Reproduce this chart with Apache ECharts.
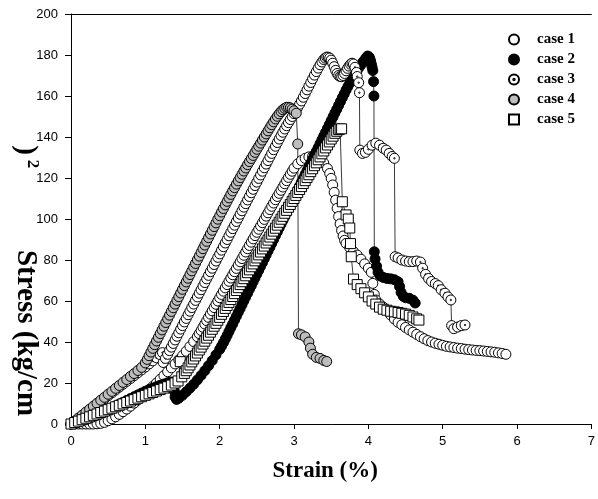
<!DOCTYPE html>
<html>
<head>
<meta charset="utf-8">
<script src="https://cdn.jsdelivr.net/npm/echarts@6/dist/echarts.min.js"></script>
<style>
  html, body { margin: 0; padding: 0; background: #fff; }
  #chart { width: 598px; height: 499px; }
</style>
</head>
<body>
<div id="chart"></div>
<script>
// strain (%) vs stress (kg/cm2)
const case1 = [
  [0,0],[0.05,0],[0.1,0],[0.15,0],[0.2,0],[0.25,0],[0.3,0],[0.35,0.1],[0.4,0.3],[0.45,0.8],[0.5,1.6],[0.55,2.5],[0.6,3.5],
  [0.65,4.7],[0.7,6],[0.75,7.3],[0.8,8.7],[0.85,10.2],[0.9,11.7],[0.95,13.3],[1.0,15],[1.05,16.6],[1.1,18.3],[1.15,20],
  [1.2,21.8],[1.25,23.6],[1.3,25.5],[1.35,27.4],[1.4,29.3],[1.45,31.3],[1.5,33.3],[1.55,35.5],[1.6,37.8],[1.65,40.2],
  [1.7,42.6],[1.725,44.1],[1.75,45.6],[1.775,47.2],[1.8,48.8],[1.825,50.4],[1.85,52],[1.875,53.6],[1.9,55.2],
  [1.925,56.8],[1.95,58.4],[1.975,60],[2.0,61.6],[2.025,63.2],[2.05,64.8],[2.075,66.4],[2.1,68],[2.125,69.6],
  [2.15,71.2],[2.175,72.8],[2.2,74.3],[2.225,75.9],[2.25,77.5],[2.275,79.1],[2.3,80.7],[2.325,82.3],[2.35,83.9],
  [2.375,85.5],[2.4,87.1],[2.425,88.7],[2.45,90.3],[2.475,91.9],[2.5,93.5],[2.525,95],[2.55,96.6],[2.575,98.2],
  [2.6,99.8],[2.625,101.4],[2.65,103],[2.675,104.6],[2.7,106.2],[2.725,107.8],[2.75,109.4],[2.775,111],[2.8,112.5],
  [2.825,114],[2.85,115.6],[2.875,117.2],[2.9,118.7],[2.925,120.3],[2.95,121.8],[2.975,123.3],[3.0,124.8],
  [3.05,126.9],[3.1,128.5],[3.15,129.6],[3.2,130.3],[3.25,130.6],[3.3,130.4],[3.35,129.2],[3.4,127.3],[3.45,124.6],
  [3.48,122.2],[3.5,119.8],[3.52,116.6],[3.54,113],[3.56,109.2],[3.58,105.2],[3.6,101.2],[3.62,97.6],[3.64,94.4],
  [3.66,91.7],[3.68,89.6],[3.7,88.1],[3.75,86],[3.8,84.1],[3.85,82.4],[3.9,80.4],[3.95,78.1],[4.0,76],[4.04,74],
  [4.06,68.6],[4.08,63.2],[4.1,60.5],[4.15,58.6],[4.2,57],[4.25,55.4],[4.3,53.2],[4.35,51.2],[4.4,49.6],[4.45,48.4],
  [4.5,47.1],[4.55,45.9],[4.6,44.8],[4.65,43.7],[4.7,42.6],[4.75,41.6],[4.8,40.7],[4.85,40],[4.9,39.4],[4.95,38.9],
  [5.0,38.4],[5.05,37.9],[5.1,37.6],[5.15,37.3],[5.2,37],[5.25,36.8],[5.3,36.5],[5.35,36.3],[5.4,36.1],[5.45,35.9],
  [5.5,35.8],[5.55,35.6],[5.6,35.4],[5.65,35.2],[5.7,35],[5.75,34.7],[5.8,34.4],[5.85,34]
];
const case2 = [
  [0,0],[0.05,0.5],[0.1,1],[0.15,1.6],[0.2,2.2],[0.25,2.9],[0.3,3.6],[0.35,4.4],[0.4,5.2],[0.45,6.1],[0.5,7],[0.55,7.9],
  [0.6,8.8],[0.65,9.7],[0.7,10.6],[0.75,11.5],[0.8,12.4],[0.85,13.3],[0.9,14.2],[0.95,15.1],[1.0,16],[1.05,16.8],
  [1.1,17.5],[1.15,18.2],[1.2,18.9],[1.25,19.5],[1.3,20.1],[1.34,20.5],[1.37,19.4],[1.39,16],[1.4,13.2],[1.42,12],
  [1.45,12.6],[1.5,14],[1.55,15.7],[1.6,17.5],[1.65,19.4],[1.7,21.5],[1.75,23.7],[1.8,26],[1.85,28.4],[1.9,31],
  [1.95,33.7],[2.0,36.4],[2.025,38],[2.05,39.6],[2.075,41.4],[2.1,43.2],[2.125,45.1],[2.15,47],[2.175,48.8],
  [2.2,50.7],[2.225,52.6],[2.25,54.5],[2.275,56.3],[2.3,58.2],[2.325,60.1],[2.35,62],[2.375,63.8],[2.4,65.7],
  [2.425,67.5],[2.45,69.4],[2.475,71.3],[2.5,73.2],[2.525,75],[2.55,76.9],[2.575,78.7],[2.6,80.6],[2.625,82.5],
  [2.65,84.4],[2.675,86.2],[2.7,88.1],[2.725,90],[2.75,91.9],[2.775,93.7],[2.8,95.6],[2.825,97.4],[2.85,99.3],
  [2.875,101.2],[2.9,103.1],[2.925,104.9],[2.95,106.8],[2.975,108.6],[3.0,110.5],[3.025,112.4],[3.05,114.3],
  [3.075,116.1],[3.1,118],[3.125,119.9],[3.15,121.8],[3.175,123.6],[3.2,125.5],[3.225,127.3],[3.25,129.2],
  [3.275,131.1],[3.3,133],[3.325,134.8],[3.35,136.7],[3.375,138.6],[3.4,140.5],[3.425,142.3],[3.45,144.2],
  [3.475,146.1],[3.5,148],[3.525,149.8],[3.55,151.7],[3.575,153.5],[3.6,155.4],[3.625,157.3],[3.65,159.2],
  [3.675,161],[3.7,162.9],[3.725,164.6],[3.75,166.3],[3.775,167.9],[3.8,169.5],[3.825,171],[3.85,172.5],
  [3.875,173.9],[3.9,175.2],[3.925,176.5],[3.95,177.6],[3.97,178.6],[3.99,179.5],[4.01,179],[4.02,178.2],
  [4.03,177],[4.04,175.6],[4.05,174],[4.06,172.4],[4.07,167],[4.075,160],
  [4.08,84],[4.09,80.5],[4.11,77],[4.13,74],[4.16,72.2],[4.2,71.5],[4.25,71],[4.3,70.8],[4.35,70.4],[4.4,69.4],
  [4.42,67],[4.44,64.2],[4.47,62.3],[4.5,61.6],[4.55,61.3],[4.6,60.4],[4.63,59]
];
const case3 = [
  [0,0],[0.05,1.3],[0.1,2.6],[0.15,4],[0.2,5.4],[0.25,6.8],[0.3,8.2],[0.35,9.6],[0.4,11],[0.45,12.4],[0.5,13.8],
  [0.55,15.2],[0.6,16.6],[0.65,18],[0.7,19.4],[0.75,20.8],[0.8,22.2],[0.85,23.6],[0.9,25],[0.95,26.4],[1.0,27.8],
  [1.05,29.3],[1.1,30.8],[1.15,32.3],[1.2,33.8],[1.23,34.8],[1.24,30],[1.27,32],[1.3,34],[1.325,35.8],[1.35,37.5],
  [1.375,39.3],[1.4,41],[1.425,42.8],[1.45,44.5],[1.475,46.3],[1.5,48],[1.525,49.8],[1.55,51.5],[1.575,53.3],
  [1.6,55],[1.625,56.8],[1.65,58.5],[1.675,60.3],[1.7,62],[1.725,63.8],[1.75,65.5],[1.775,67.3],[1.8,69],
  [1.825,70.8],[1.85,72.5],[1.875,74.3],[1.9,76],[1.925,77.8],[1.95,79.5],[1.975,81.3],[2.0,83],[2.025,84.8],
  [2.05,86.5],[2.075,88.3],[2.1,90],[2.125,91.8],[2.15,93.5],[2.175,95.3],[2.2,97],[2.225,98.8],[2.25,100.5],
  [2.275,102.3],[2.3,104],[2.325,105.8],[2.35,107.5],[2.375,109.3],[2.4,111],[2.425,112.8],[2.45,114.5],
  [2.475,116.3],[2.5,118],[2.525,119.8],[2.55,121.5],[2.575,123.3],[2.6,125],[2.625,126.8],[2.65,128.5],
  [2.675,130.3],[2.7,132],[2.725,133.8],[2.75,135.5],[2.775,137.3],[2.8,139],[2.825,140.7],[2.85,142.3],
  [2.875,143.9],[2.9,145.5],[2.925,147],[2.95,148.5],[2.975,150],[3.0,151.4],[3.025,152.9],[3.05,154.4],
  [3.075,156],[3.1,157.6],[3.125,159.4],[3.15,161.2],[3.175,163],[3.2,164.8],[3.225,166.6],[3.25,168.4],
  [3.275,170.2],[3.3,171.9],[3.325,173.6],[3.35,175.2],[3.375,176.6],[3.4,177.8],[3.42,178.5],[3.44,179],
  [3.46,178.9],[3.48,178.5],[3.5,177.5],[3.52,176],[3.54,174.3],[3.56,172.5],[3.58,171],[3.6,170],[3.62,169.5],
  [3.64,169.4],[3.66,170],[3.68,171],[3.7,172.3],[3.72,173.5],[3.74,174.6],[3.76,175.5],[3.78,176],[3.8,175.6],
  [3.82,174],[3.84,171.5],[3.85,169.5],[3.87,166.5],[3.88,161.6],[3.885,133.6],[3.92,132],[3.96,132.5],[4.0,134],
  [4.05,136],[4.1,137],[4.15,136],[4.2,134.5],[4.24,133.6],[4.28,132],[4.32,130.5],[4.35,129.6],[4.36,81.6],
  [4.4,81],[4.45,80],[4.5,79.5],[4.55,79.2],[4.6,79.2],[4.65,79.5],[4.7,79],[4.73,76],[4.77,73],[4.81,71],
  [4.85,69.5],[4.9,68.5],[4.94,67.5],[4.98,65.5],[5.03,63.8],[5.07,62],[5.11,60.5],[5.12,48],[5.15,46.5],
  [5.2,47.3],[5.25,48],[5.3,48.3]
];
const case4 = [
  [0,0],[0.05,1.4],[0.1,2.9],[0.15,4.3],[0.2,5.8],[0.25,7.2],[0.3,8.7],[0.35,10.1],[0.4,11.6],[0.45,13],[0.5,14.5],
  [0.55,15.9],[0.6,17.4],[0.65,18.8],[0.7,20.3],[0.75,21.7],[0.8,23.2],[0.85,24.6],[0.9,26.1],[0.95,27.6],[1.0,29.8],
  [1.025,31.5],[1.05,33.3],[1.075,35.1],[1.1,36.9],[1.125,38.7],[1.15,40.5],[1.175,42.3],[1.2,44.1],[1.225,45.9],
  [1.25,47.7],[1.275,49.5],[1.3,51.3],[1.325,53.1],[1.35,54.9],[1.375,56.7],[1.4,58.5],[1.425,60.3],[1.45,62.1],
  [1.475,63.9],[1.5,65.7],[1.525,67.5],[1.55,69.3],[1.575,71.1],[1.6,72.9],[1.625,74.7],[1.65,76.5],[1.675,78.3],
  [1.7,80.1],[1.725,81.9],[1.75,83.7],[1.775,85.5],[1.8,87.3],[1.825,89.1],[1.85,90.9],[1.875,92.7],[1.9,94.5],
  [1.925,96.3],[1.95,98.1],[1.975,99.9],[2.0,101.6],[2.025,103.4],[2.05,105.1],[2.075,106.9],[2.1,108.6],
  [2.125,110.3],[2.15,112],[2.175,113.7],[2.2,115.3],[2.225,117],[2.25,118.6],[2.275,120.2],[2.3,121.8],
  [2.325,123.4],[2.35,124.9],[2.375,126.5],[2.4,128],[2.425,129.5],[2.45,131],[2.475,132.5],[2.5,134],
  [2.525,135.5],[2.55,137],[2.575,138.5],[2.6,140],[2.625,141.5],[2.65,143],[2.675,144.5],[2.7,146],[2.725,147.4],
  [2.75,148.8],[2.775,150.1],[2.8,151.3],[2.825,152.4],[2.85,153.3],[2.875,154],[2.9,154.5],[2.925,154.5],
  [2.95,154.2],[2.975,153.6],[3.0,152.8],[3.03,151.6],[3.05,136.6],[3.06,44],[3.1,43.5],[3.15,42.5],[3.2,40],
  [3.22,37],[3.25,34],[3.3,32.5],[3.35,32],[3.4,31],[3.44,30.5]
];
const case5 = [
  [0,0],[0.05,0.7],[0.1,1.4],[0.15,2.1],[0.2,2.8],[0.25,3.5],[0.3,4.2],[0.35,4.9],[0.4,5.6],[0.45,6.3],[0.5,7],
  [0.55,7.7],[0.6,8.4],[0.65,9.1],[0.7,9.8],[0.75,10.5],[0.8,11.2],[0.85,11.9],[0.9,12.6],[0.95,13.3],[1.0,14],
  [1.05,14.7],[1.1,15.4],[1.15,16.1],[1.2,16.8],[1.25,17.5],[1.3,18.2],[1.35,19],[1.4,20],[1.44,21],[1.47,30.4],
  [1.49,23],[1.525,24.7],[1.55,26],[1.575,27.4],[1.6,28.8],[1.625,30.3],[1.65,31.7],[1.675,33.2],[1.7,34.6],
  [1.725,36.1],[1.75,37.5],[1.775,39],[1.8,40.4],[1.825,41.9],[1.85,43.3],[1.875,44.8],[1.9,46.2],[1.925,47.7],
  [1.95,49.1],[1.975,50.6],[2.0,52],[2.025,53.5],[2.05,54.9],[2.075,56.4],[2.1,57.8],[2.125,59.3],[2.15,60.7],
  [2.175,62.2],[2.2,63.6],[2.225,65.1],[2.25,66.5],[2.275,68],[2.3,69.4],[2.325,70.9],[2.35,72.3],[2.375,73.8],
  [2.4,75.2],[2.425,76.7],[2.45,78.1],[2.475,79.6],[2.5,81],[2.525,82.5],[2.55,83.9],[2.575,85.4],[2.6,86.8],
  [2.625,88.3],[2.65,89.7],[2.675,91.2],[2.7,92.6],[2.725,94.1],[2.75,95.5],[2.775,97],[2.8,98.4],[2.825,99.9],
  [2.85,101.3],[2.875,102.8],[2.9,104.2],[2.925,105.7],[2.95,107.1],[2.975,108.6],[3.0,110],[3.025,111.5],
  [3.05,112.9],[3.075,114.4],[3.1,115.8],[3.125,117.3],[3.15,118.7],[3.175,120.2],[3.2,121.6],[3.225,123.1],
  [3.25,124.5],[3.275,126],[3.3,127.4],[3.325,128.9],[3.35,130.3],[3.375,131.8],[3.4,133.2],[3.425,134.7],
  [3.45,136.1],[3.475,137.6],[3.5,139],[3.525,140.4],[3.55,141.8],[3.575,142.8],[3.6,143.6],[3.62,143.9],[3.64,144],
  [3.65,108.4],[3.7,102],[3.73,100],[3.75,95.6],[3.76,88],[3.77,81.6],[3.8,70.7],[3.85,68],[3.9,66],[3.95,64],
  [4.0,62],[4.05,60],[4.1,58.5],[4.15,57],[4.2,56],[4.25,55.5],[4.3,55],[4.35,54.7],[4.4,54.4],[4.45,54],[4.5,53.6],
  [4.55,53],[4.6,52.2],[4.65,51.3],[4.68,50.7]
];

const seriesNames = ['case 1', 'case 2', 'case 3', 'case 4', 'case 5'];
const xTicks = [0, 1, 2, 3, 4, 5, 6, 7];
const yTicks = [0, 20, 40, 60, 80, 100, 120, 140, 160, 180, 200];

// circle with a dot in the middle (case 3)
const dotCircle = 'path://M0,10 A10,10 0 1,1 20,10 A10,10 0 1,1 0,10 Z M8.6,10 A1.4,1.4 0 1,1 11.4,10 A1.4,1.4 0 1,1 8.6,10 Z';

const serif = '"Liberation Serif", "Times New Roman", serif';
const sans = '"Liberation Sans", Arial, sans-serif';

function makeSeries(name, data, symbol, fill) {
  return {
    name: name,
    type: 'line',
    data: data,
    symbol: symbol,
    symbolSize: 10,
    showAllSymbol: true,
    xAxisIndex: 0,
    yAxisIndex: 0,
    lineStyle: { color: '#3a3a3a', width: 1 },
    itemStyle: { color: fill, borderColor: '#000', borderWidth: 1 },
    emphasis: { disabled: true },
    animation: false
  };
}

const myChart = echarts.init(document.getElementById('chart'));

const option = {
  backgroundColor: '#fff',
  animation: false,
  grid: { left: 71, right: 0, top: 14, bottom: 75 },
  legend: {
    orient: 'vertical',
    left: 503,
    top: 27,
    itemWidth: 10,
    itemHeight: 10,
    itemGap: 5,
    selectedMode: false,
    data: [
      { name: 'case 1', icon: 'circle' },
      { name: 'case 2', icon: 'circle' },
      { name: 'case 3', icon: dotCircle },
      { name: 'case 4', icon: 'circle' },
      { name: 'case 5', icon: 'rect' }
    ],
    textStyle: {
      fontFamily: serif,
      fontWeight: 'bold',
      fontSize: 15,
      lineHeight: 15,
      color: '#000',
      padding: [0, 0, 0, 13]
    }
  },
  xAxis: [
    {
      type: 'value',
      min: xTicks[0],
      max: xTicks[xTicks.length - 1],
      interval: 1,
      name: 'Strain (%)',
      nameLocation: 'middle',
      nameGap: 36,
      nameTextStyle: { fontFamily: serif, fontWeight: 'bold', fontSize: 23, color: '#000', padding: [0, 12, 0, 0] },
      axisLine: { show: true, onZero: false, lineStyle: { color: '#000', width: 1 } },
      axisTick: { show: true, inside: false, length: 5, lineStyle: { color: '#000' } },
      axisLabel: { fontFamily: sans, fontSize: 13, color: '#000', margin: 11 },
      splitLine: { show: false }
    },
    {
      type: 'value',
      position: 'top',
      min: xTicks[0],
      max: xTicks[xTicks.length - 1],
      axisLine: { show: true, onZero: false, lineStyle: { color: '#000', width: 1 } },
      axisTick: { show: false },
      axisLabel: { show: false },
      splitLine: { show: false }
    }
  ],
  yAxis: {
    type: 'value',
    min: yTicks[0],
    max: yTicks[yTicks.length - 1],
    interval: 20,
    axisLine: { show: true, onZero: false, lineStyle: { color: '#000', width: 1 } },
    axisTick: { show: true, inside: false, length: 6, lineStyle: { color: '#000' } },
    axisLabel: { fontFamily: sans, fontSize: 13, color: '#000', margin: 13 },
    splitLine: { show: false }
  },
  // the y title in the source figure is split: "Stress (kg/cm" with ")2" left above it
  graphic: [
    {
      type: 'text',
      x: 25,
      y: 333,
      rotation: -Math.PI / 2,
      style: { text: 'Stress (kg/cm', font: 'bold 29px ' + serif, fill: '#000', align: 'center', verticalAlign: 'middle' }
    },
    {
      type: 'text',
      x: 25,
      y: 150,
      rotation: -Math.PI / 2,
      style: { text: ')', font: 'bold 29px ' + serif, fill: '#000', align: 'center', verticalAlign: 'middle' }
    },
    {
      type: 'text',
      x: 32,
      y: 164,
      rotation: -Math.PI / 2,
      style: { text: '2', font: 'bold 17px ' + serif, fill: '#000', align: 'center', verticalAlign: 'middle' }
    }
  ],
  series: [
    makeSeries(seriesNames[0], case1, 'circle', '#fff'),
    makeSeries(seriesNames[1], case2, 'circle', '#000'),
    makeSeries(seriesNames[2], case3, dotCircle, '#fff'),
    makeSeries(seriesNames[3], case4, 'circle', '#bdbdbd'),
    makeSeries(seriesNames[4], case5, 'rect', '#fff')
  ]
};

myChart.setOption(option);

window.addEventListener('resize', () => {
  myChart.resize();
});
</script>
</body>
</html>
